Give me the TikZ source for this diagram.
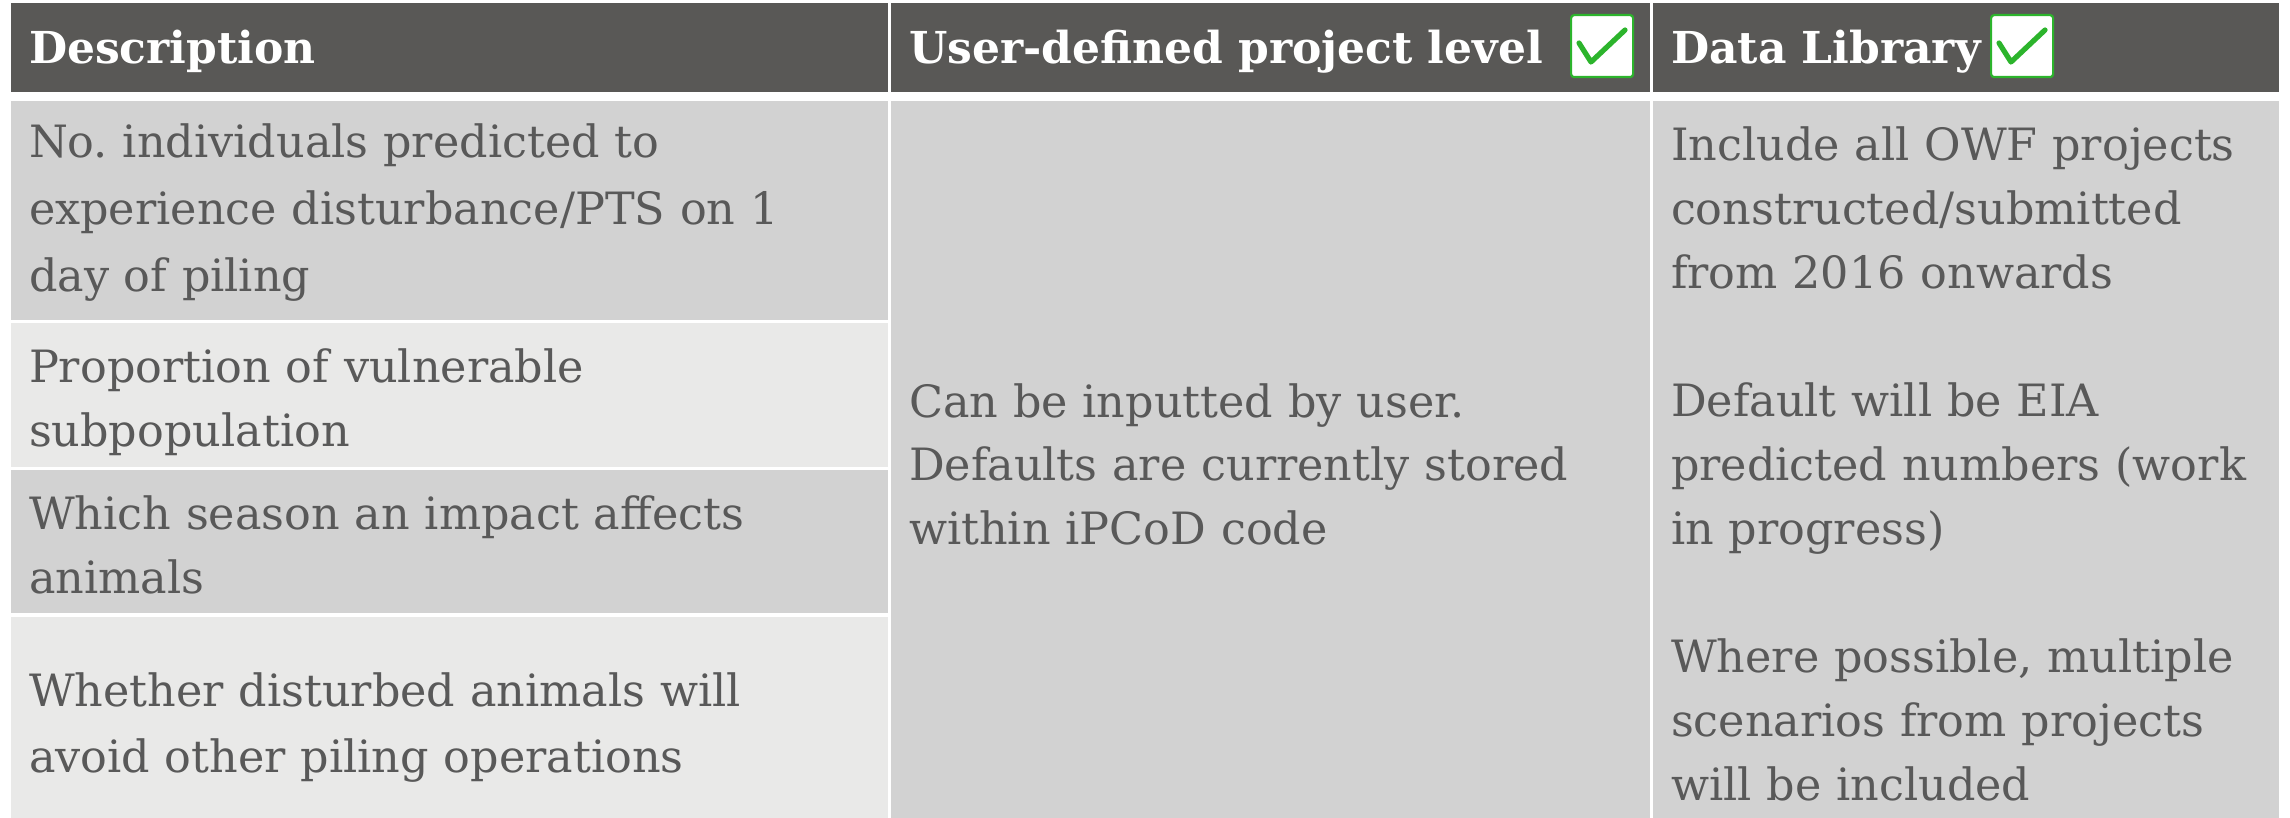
\documentclass[tikz,border=0pt]{standalone}
\usepackage{fontspec}
\setmainfont{DejaVu Serif}
\definecolor{hdrgray}{RGB}{89,88,86}
\definecolor{txtgray}{RGB}{89,89,89}
\definecolor{darkcell}{RGB}{210,210,210}
\definecolor{lightcell}{RGB}{233,233,232}
\definecolor{chkgreen}{RGB}{44,180,44}
\begin{document}
\begin{tikzpicture}[x=0.5pt,y=-0.5pt,
  hdrtext/.style={anchor=base west, inner sep=0pt, outer sep=0pt, text=white, font=\fontsize{22pt}{26pt}\selectfont\bfseries},
  celltext/.style={anchor=base west, inner sep=0pt, outer sep=0pt, text=txtgray, text width=500pt, align=left},
  chkbox/.style={draw=chkgreen, line width=1.1pt, fill=white, rounded corners=1.5pt, minimum width=31pt, minimum height=31pt, inner sep=0pt, anchor=north west},
  chkmark/.style={draw=chkgreen, line width=2.6pt, line cap=round, line join=round}]
\useasboundingbox (0,0) rectangle (2290,818);
\fill[white] (0,0) rectangle (2290,818);
% header cells
\fill[hdrgray] (11,3) rectangle (888,92);
\fill[hdrgray] (891,3) rectangle (1650,92);
\fill[hdrgray] (1653,3) rectangle (2279,92);
% body cells
\fill[darkcell] (11,101) rectangle (888,320);
\fill[lightcell] (11,323) rectangle (888,467);
\fill[darkcell] (11,470) rectangle (888,613);
\fill[lightcell] (11,617) rectangle (888,818);
\fill[darkcell] (891,101) rectangle (1650,818);
\fill[darkcell] (1653,101) rectangle (2279,818);
% header texts
\node[hdrtext] (h1) at (29,64) {Description};
\node[hdrtext] (h2) at (909,64) {User-defined project level};
\node[hdrtext] (h3) at (1671,64) {Data Library};
% check boxes
\node[chkbox] (cb1) at (1570,14) {};
\draw[chkmark] ([shift={(9,29)}]cb1.north west) -- ([shift={(21,48)}]cb1.north west) -- ([shift={(55,16)}]cb1.north west);
\node[chkbox] (cb2) at (1990,14) {};
\draw[chkmark] ([shift={(9,29)}]cb2.north west) -- ([shift={(21,48)}]cb2.north west) -- ([shift={(55,16)}]cb2.north west);
% column 1
\node[celltext, font=\fontsize{22.25pt}{33.5pt}\selectfont] (r1) at (29,157.5) {No.\ individuals predicted to\\experience disturbance/PTS on 1\\day of piling};
\node[celltext, font=\fontsize{22.25pt}{32pt}\selectfont] (r2) at (29,382) {Proportion of vulnerable\\subpopulation};
\node[celltext, font=\fontsize{22.25pt}{32pt}\selectfont] (r3) at (29,529) {Which season an impact affects\\animals};
\node[celltext, font=\fontsize{22.25pt}{33pt}\selectfont] (r4) at (29,706) {Whether disturbed animals will\\avoid other piling operations};
% column 2
\node[celltext, font=\fontsize{22.25pt}{31.75pt}\selectfont] (c2) at (909,417) {Can be inputted by user.\\Defaults are currently stored\\within iPCoD code};
% column 3
\node[celltext, font=\fontsize{22.25pt}{32pt}\selectfont] (c3) at (1671,161) {Include all OWF projects\\constructed/submitted\\from 2016 onwards\\[32pt]Default will be EIA\\predicted numbers (work\\in progress)\\[32pt]Where possible, multiple\\scenarios from projects\\will be included};
\end{tikzpicture}
\end{document}
